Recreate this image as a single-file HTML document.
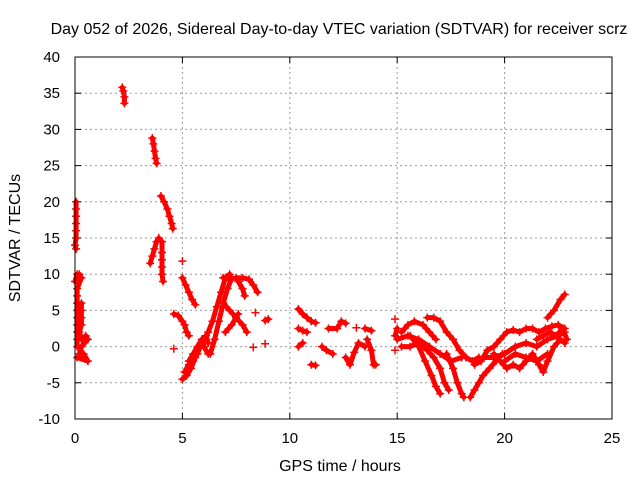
<!DOCTYPE html>
<html><head><meta charset="utf-8"><style>
body{margin:0;background:#fff}
svg{font-family:"Liberation Sans",sans-serif;font-size:12px}
</style></head><body>
<svg id="chart" width="640" height="480">
<rect width="640" height="480" fill="#fff"/>
<text x="339" y="34" text-anchor="middle" font-size="16">Day 052 of 2026, Sidereal Day-to-day VTEC variation (SDTVAR) for receiver scrz</text>
<text x="340" y="471" text-anchor="middle" font-size="16">GPS time / hours</text>
<text transform="translate(20,238) rotate(-90)" text-anchor="middle" font-size="16">SDTVAR / TECUs</text>
<g id="grid"></g><g id="marks"></g>
<rect x="75" y="57" width="537" height="362" fill="none" stroke="#000"/>
</svg>
<script>
const xTicks=[0,5,10,15,20,25];
const yTicks=[-10,-5,0,5,10,15,20,25,30,35,40];
const segTimes=[
[0.05,0.05,0.05,0.05,0.05,0.05,0,0.05],
[0.1,0,0.2,0.3,0.1,0.1,0.1,0.1,0.1,0.1,0.1,0.1,0.1],
[0.3,0.3,0.3,0.3,0.2,0.3,0.5,0.6,0.3,0.2,0.4,0.6,0.1],
[2.2,2.25,2.3,2.3],
[3.6,3.65,3.7,3.75,3.8],
[3.5,3.6,3.7,3.8,3.9],
[4.05,4.05,4.05,4.05,4.05,4.1],
[4.0,4.15,4.3,4.4,4.5,4.55],
[5.0],[4.6],
[5.0,5.15,5.3,5.45,5.6],
[4.6,4.8,5.0,5.1,5.2,5.3],
[5.0,5.2,5.4,5.6,5.8,6.0,6.2,6.4,6.6,6.8,7.0,7.2],
[5.1,5.3,5.5,5.7,5.9,6.1,6.2],
[5.3,5.5,5.7,5.9,6.0,6.2],
[6.3,6.5,6.7,6.9,7.1,7.3],
[6.9,7.2,7.5,7.8,8.1,8.3,8.5],
[7.6,7.8,7.9],
[6.9,7.2,7.5,7.8,8.0],
[7.0,7.3,7.6],
[8.4],[8.85,9.0],[8.3],[8.85],
[10.4,10.6,10.8,11.0,11.2],
[10.4,10.6,10.8],[10.4,10.6],[11.0,11.2],
[11.5,11.7,12.0],[11.8,12.2,12.4,12.6],[12.6,12.8,13.0,13.2,13.5],
[13.1],[13.5,13.8],[13.6,13.8,13.9,14.0],
[14.9],[14.9,15.0],[14.9],
[15.2,15.5,15.8,16.2,16.5,16.8],
[15.0,15.5,16.0,16.5,17.0,17.5,18.0],
[15.2,15.6,16.0,16.4,16.7,17.0,17.2,17.4],
[15.6,16.0,16.3,16.6,16.8,17.0],
[16.4,16.7,17.0,17.3,17.6,17.9,18.2,18.5,18.8],
[17.3,17.6,17.8,18.0,18.1],
[18.4,18.6,18.8,19.0,19.3,19.6,19.9],
[18.6,18.9,19.2,19.5,19.8,20.1,20.4,20.7,21.0,21.3,21.6,21.9,22.2,22.5,22.8],
[19.0,19.5,20.0,20.5,21.0,21.5,22.0,22.5,22.8],
[20.0,20.5,21.0,21.5,22.0],
[19.5,19.8,20.1,20.4,20.7,21.0,21.3,21.6,21.8,22.0,22.3,22.6,22.8],
[22.0,22.3,22.6,22.8],
[21.5,21.8,22.1,22.4,22.7,22.9]
];
const segValues=[
[20,19,18,17,16,15,14,13.5],
[10,9,10,9.5,8,7,6,5,4,3,2,1,0],
[6,5,4,3,2,1,1.5,1,0,-1,-1,-2,-1.5],
[35.8,35.3,34.5,33.6],
[28.8,28,27,26,25.3],
[11.5,12.5,13.5,14.5,15],
[14.5,13,12,11,10,9],
[20.8,20,19,18,17,16.3],
[11.8],[-0.3],
[9.5,8.5,7.5,6.5,5.8],
[4.5,4.3,3.5,3,2,1.5],
[-4.5,-4,-3,-1.5,0,1,2,3.5,5.5,7.5,9.5,10],
[-3.5,-2.5,-2,-1,0.5,1.5,0.5],
[-2,-1,0,1,0,-1],
[-1,1,3.5,6,8,9.5],
[9.5,9.3,9.5,9.5,9.3,8.5,7.5],
[9,8,7],
[6,5,4,3,2],
[2,3,4.5],
[4.7],[3.6,3.8],[-0.1],[0.4],
[5.2,4.5,4,3.5,3.3],
[2.5,2.2,2],[0,0.5],[-2.5,-2.6],
[0,-0.5,-1],[2.5,2.5,3.5,3.2],[-1.5,-2.5,-0.8,0.5,0],
[2.6],[2.5,2.2],[1,-0.5,-2.5,-2.5],
[3.8],[1.5,2.5],[-0.5],
[2,3,3.5,3,2,1],
[1,1.5,1,0,-1,-2,-1.5],
[0,0,0.5,-0.5,-1.5,-3,-5,-6],
[1.5,0,-2,-4,-5.5,-6.5],
[4,4,3.5,2,1,-0.5,-1.5,-2,-1.5],
[-1,-3,-5,-6.5,-7],
[-7,-6,-5,-4,-3,-2,-1],
[-2.5,-2,-0.5,0,1,2,2.3,2,2.5,2.5,2,2.5,2.8,3,2.5],
[-1.5,-1.5,-1,0,0.5,0,1,1.5,2],
[-2,-1,-1.5,-2,-1],
[-1,-2,-3,-2.5,-3,-2,-1,-2.5,-3.5,-2,0,1,0.5],
[4,5,6.5,7.2],
[1,1.5,2,1.5,2.5,1]
];
const X=t=>75+t*537/25, Y=v=>419-(v+10)*362/50;
const NS='http://www.w3.org/2000/svg';
const grid=document.getElementById('grid'), marks=document.getElementById('marks');
function mk(tag,a,p){const e=document.createElementNS(NS,tag);for(const k in a)e.setAttribute(k,a[k]);p.appendChild(e);return e;}
xTicks.forEach(t=>{
  if(t>0&&t<25){const g=mk('line',{x1:X(t),x2:X(t),y1:57,y2:419,stroke:'#999','stroke-dasharray':'2,3'},grid);
  
  }
  mk('line',{x1:X(t),x2:X(t),y1:419,y2:413,stroke:'#000'},grid);
  mk('line',{x1:X(t),x2:X(t),y1:57,y2:63,stroke:'#000'},grid);
  const l=mk('text',{x:X(t),y:443,'text-anchor':'middle','font-size':15},grid);l.textContent=t;
  
  
});
yTicks.forEach(v=>{
  if(v>-10&&v<40){const g=mk('line',{x1:75,x2:612,y1:Y(v),y2:Y(v),stroke:'#999','stroke-dasharray':'2,3'},grid);
  
  }
  mk('line',{x1:75,x2:81,y1:Y(v),y2:Y(v),stroke:'#000'},grid);
  mk('line',{x1:612,x2:606,y1:Y(v),y2:Y(v),stroke:'#000'},grid);
  const l=mk('text',{x:60,y:Y(v)+5,'text-anchor':'end','font-size':15},grid);l.textContent=v;
  
  
});
segTimes.forEach((ts,i)=>{
  const vs=segValues[i];
  const pl=mk('polyline',{points:ts.map((t,j)=>X(t)+','+Y(vs[j])).join(' '),fill:'none',stroke:'#f00','stroke-width':5,'stroke-linecap':'round','stroke-linejoin':'round'},marks);
  
  
  ts.forEach((t,j)=>{
    const x=X(t),y=Y(vs[j]);
    const p=mk('path',{d:`M${x-4},${y}h8M${x},${y-4}v8`,stroke:'#f00','stroke-width':1.5},marks);
    
    
  });
});
</script>
</body></html>
